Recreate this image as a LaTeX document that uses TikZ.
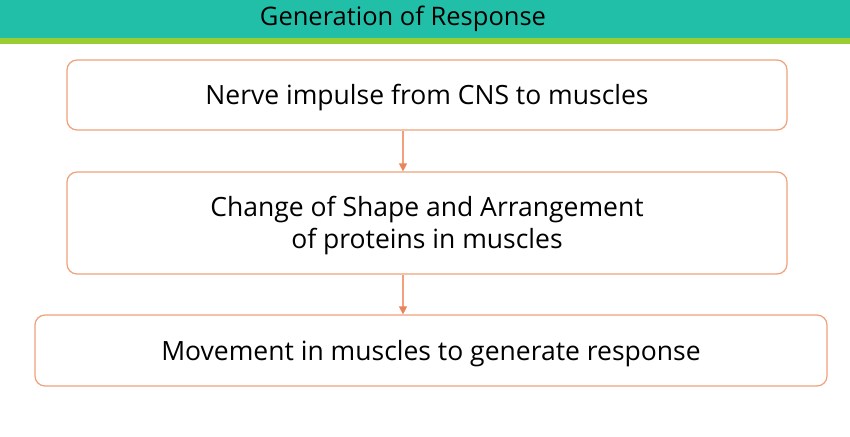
\documentclass[tikz,border=0pt]{standalone}
\usepackage{fontspec}
\setmainfont{Open Sans}
\usetikzlibrary{arrows.meta}
\definecolor{teal1}{HTML}{22BFA8}
\definecolor{green1}{HTML}{9ACD32}
\definecolor{edge1}{HTML}{F0A07A}
\definecolor{head1}{HTML}{E8855A}
\tikzset{
  box/.style={draw=edge1, line width=1.2pt, rounded corners=10pt, fill=white, inner sep=0pt, align=center, font=\fontsize{26.5}{32}\selectfont},
  label/.style={inner sep=0pt, align=center, font=\fontsize{26.5}{32}\selectfont},
  conn/.style={draw=edge1, line width=1.2pt, -{Triangle[length=8pt,width=8pt,color=head1]}},
}
\begin{document}
\begin{tikzpicture}[x=1pt,y=-1pt]
\useasboundingbox (0,0) rectangle (850,436);
\fill[teal1] (0,0) rectangle (850,38);
\fill[green1] (0,38) rectangle (850,44);
\node[font=\fontsize{25.5}{30}\selectfont] (title) at (403,19) {Generation of Response};
\node[box, minimum width=720pt, minimum height=70pt] (b1) at (427,95) {};
\node[label] (t1) at (427,98) {Nerve impulse from CNS to muscles};
\node[box, minimum width=720pt, minimum height=102pt] (b2) at (427,223) {};
\node[label] (t2) at (427,225.5) {Change of Shape and Arrangement\\ of proteins in muscles};
\node[box, minimum width=792pt, minimum height=71pt] (b3) at (431,350.5) {};
\node[label] (t3) at (431,354) {Movement in muscles to generate response};
\draw[conn] (b1.south -| 403,0) -- (b2.north -| 403,0);
\draw[conn] (b2.south -| 403,0) -- (b3.north -| 403,0);
\end{tikzpicture}
\end{document}
